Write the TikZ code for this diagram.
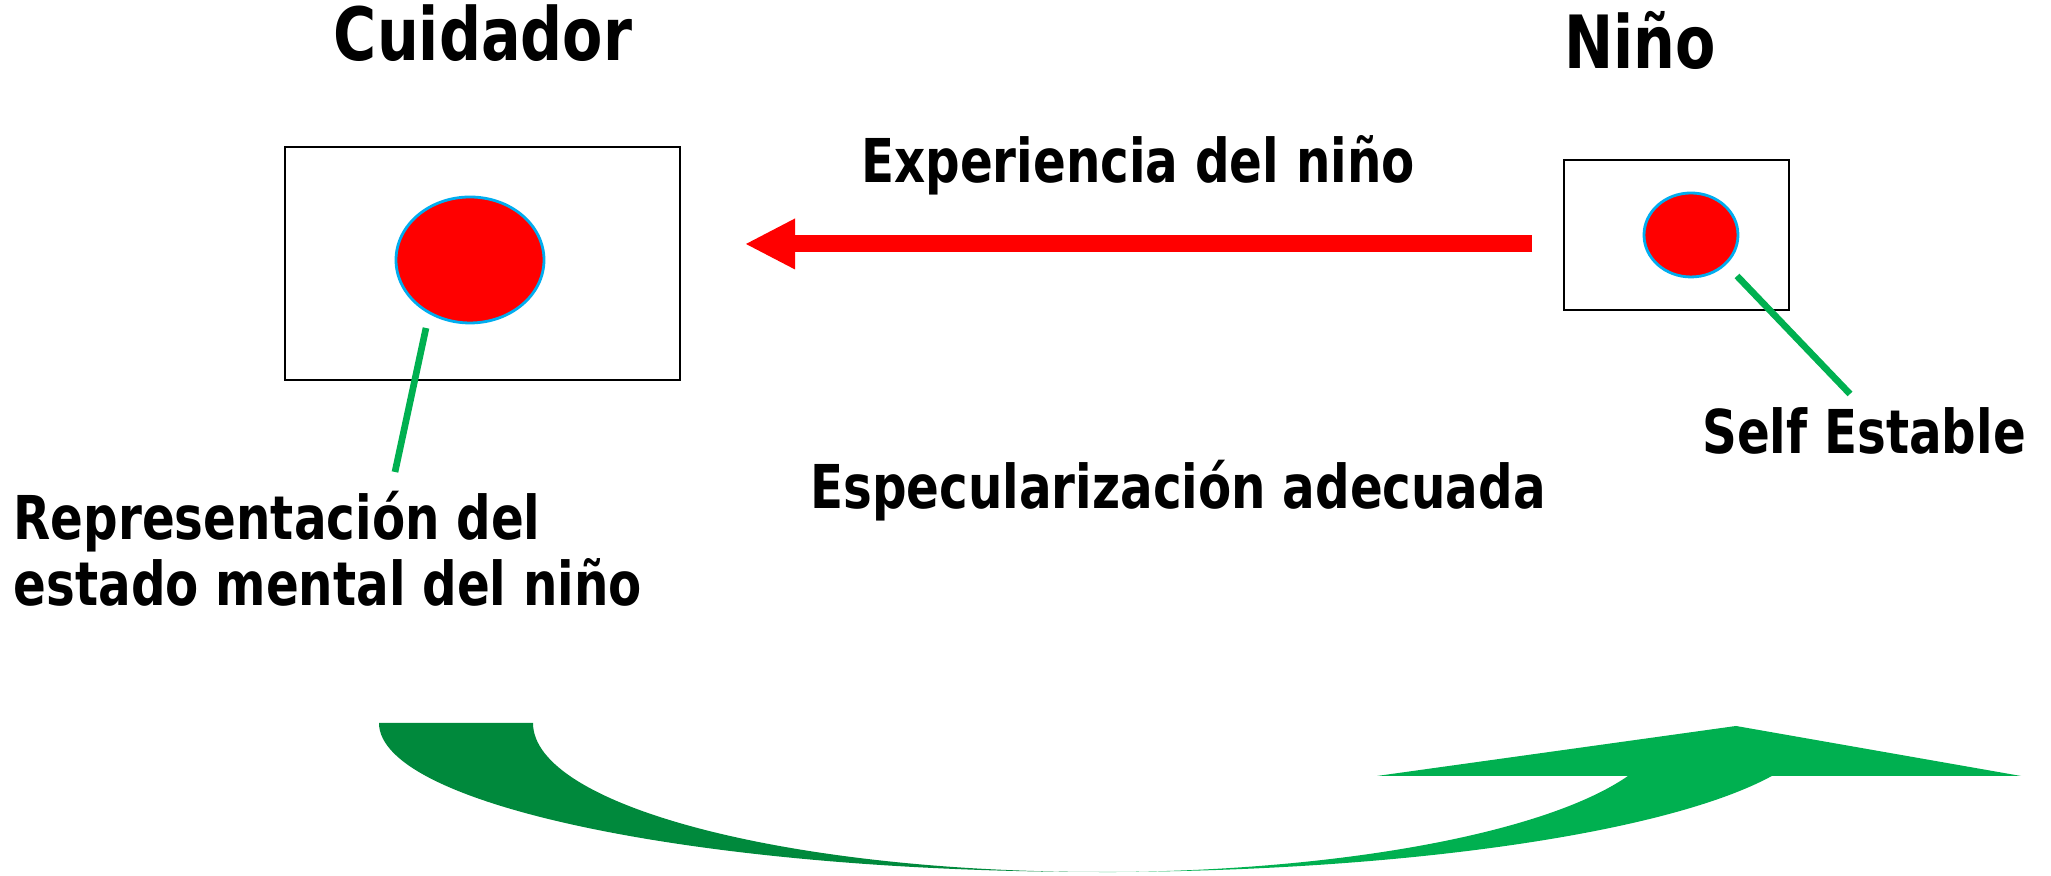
\documentclass[tikz,border=0pt]{standalone}
\usepackage{fontspec}
\setmainfont{DejaVu Sans}[FakeStretch=0.8]
\usepackage{tikz}
\usetikzlibrary{ 
  	positioning,
  	arrows.meta,
  	shapes.geometric,
  	calc
  }
\definecolor{darkgreen}{RGB}{0,137,60}
\definecolor{lightgreen}{RGB}{0,176,80}
\tikzstyle{frame}=[draw,line width=0.6pt,inner sep=0,outer sep=0]
\tikzstyle{blob}=[ellipse,draw=cyan,fill=red,line width=0.8pt,inner sep=0,outer sep=0]
\tikzstyle{title}=[font=\fontsize{20.9}{24}\selectfont\bfseries,anchor=base,inner sep=0]
\tikzstyle{txt}=[font=\fontsize{17.2}{18.8}\selectfont\bfseries,anchor=base,inner sep=0]
\tikzstyle{pointer}=[lightgreen,line width=1.9pt]

\begin{document}
\begin{tikzpicture}
  \useasboundingbox (0,0) rectangle (20.51,8.76);
  \node [title] (cuidador) at (4.83,8.15) {Cuidador};
  \node [title] (nino) at (16.40,8.07) {Niño};
%
  \node [frame, minimum width=3.95cm, minimum height=2.33cm] (cbox) at (4.825,6.125) {};
  \node [blob, minimum width=1.48cm, minimum height=1.26cm] (cblob) at (4.70,6.16) {};
  \node [frame, minimum width=2.25cm, minimum height=1.50cm] (nbox) at (16.765,6.41) {};
  \node [blob, minimum width=0.94cm, minimum height=0.84cm] (nblob) at (16.91,6.41) {};
%
  \node [txt] (experiencia) at (11.38,6.93) {Experiencia del niño};
  \node [txt] (especular) at (11.78,3.67) {Especularización adecuada};
  \node [txt] (self) at (18.64,4.22) {Self Estable};
  \node [txt, anchor=base west, align=left] (repres) at (0.13,2.70)
     {Representación del\\estado mental del niño};
%
  \coordinate (from) at (15.32,6.32);
  \coordinate (to) at (7.46,6.32);
  \draw [red, line width=1.7mm, -{Triangle[length=4.9mm,width=5.1mm,line width=0pt]}]
     (from) -- (to);
%
  \coordinate (cpin) at (4.26,5.48);
  \coordinate (cend) at (3.95,4.04);
  \draw [pointer] (cpin) -- (cend);
  \coordinate (npin) at (17.37,6.00);
  \coordinate (nend) at (18.50,4.82);
  \draw [pointer] (npin) -- (nend);
%
  \fill [darkgreen] (3.79,1.53)
     arc [start angle=180, end angle=270, x radius=7.2, y radius=1.49]
     arc [start angle=270, end angle=180, x radius=5.66, y radius=1.49]
     -- cycle;
  \fill [lightgreen] (10.99,0.04)
     arc [start angle=270, end angle=339.2, x radius=7.2, y radius=1.49]
     -- (20.21,1.00) -- (17.36,1.50) -- (13.77,1.00) -- (16.28,1.00)
     arc [start angle=339.2, end angle=270, x radius=5.66, y radius=1.49]
     -- cycle;
\end{tikzpicture}
\end{document}
